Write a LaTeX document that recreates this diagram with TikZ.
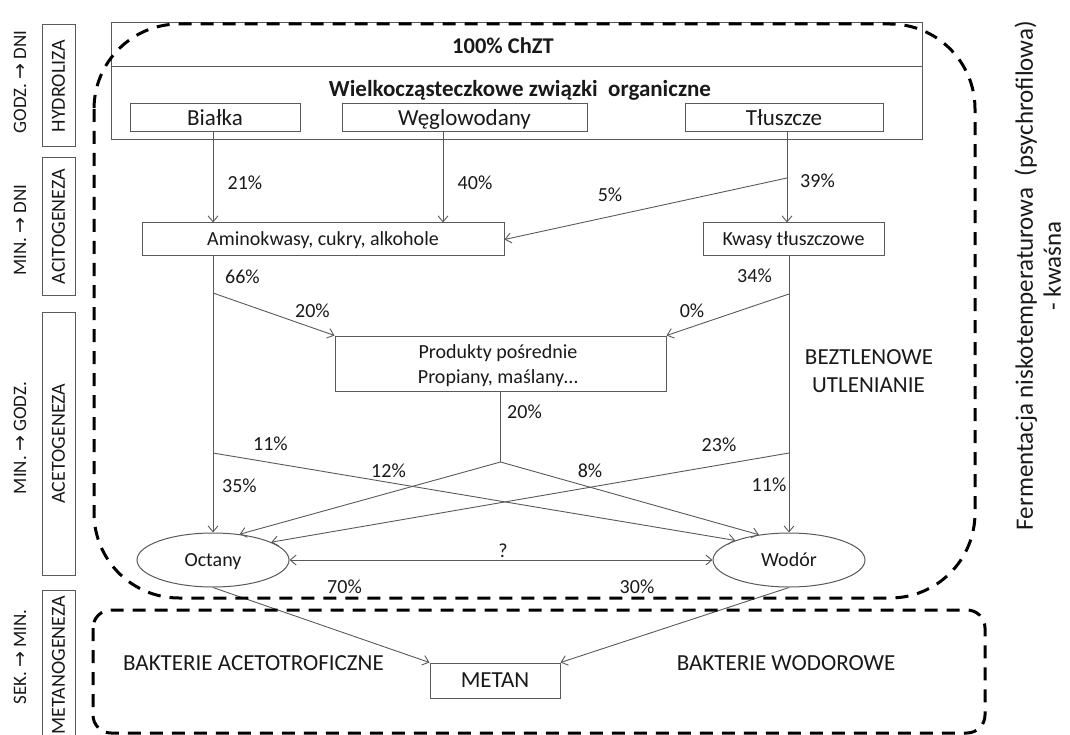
\documentclass[tikz,border=0pt]{standalone}
\usepackage{fontspec}
\setmainfont{Carlito}
\newfontfamily\arrowfont{DejaVu Sans}
\usetikzlibrary{arrows.meta,shapes.geometric}
\newcommand{\myrarr}{{\arrowfont →}}
\begin{document}
\begin{tikzpicture}[x=1pt,y=-1pt,
  conn/.style={draw=black!65, line width=0.9pt},
  arr/.style={conn, -{Straight Barb[length=6pt,width=10pt]}},
  arrtwo/.style={conn, {Straight Barb[length=6pt,width=10pt]}-{Straight Barb[length=6pt,width=10pt]}},
  box/.style={draw=black!65, line width=1pt, rectangle, inner sep=0pt},
  fa/.style={font=\fontsize{20}{24}\selectfont, text height=12.6pt, text depth=0pt, inner sep=0pt, text=black!90},
  fl/.style={font=\fontsize{19}{23}\selectfont, text height=12pt, text depth=0pt, inner sep=0pt, text=black!90},
  fb/.style={font=\fontsize{23}{27}\selectfont, text height=14.5pt, text depth=0pt, inner sep=0pt, text=black!90},
  fbold/.style={font=\fontsize{23}{27}\selectfont\bfseries, text height=14.5pt, text depth=0pt, inner sep=0pt, text=black!90},
  fbolds/.style={font=\fontsize{22.5}{27}\selectfont\bfseries, text height=14.2pt, text depth=0pt, inner sep=0pt, text=black!90},
  fbig/.style={font=\fontsize{25}{30}\selectfont, text height=15.8pt, text depth=0pt, inner sep=0pt, text=black!90},
  dashbox/.style={draw=black, line width=3pt, dash pattern=on 13pt off 9pt},
]
\useasboundingbox (0,0) rectangle (1070,735);

% left stage labels
\node[box, rotate=90, minimum width=122, minimum height=33, fa] (hyd) at (58.5,86) {HYDROLIZA};
\node[box, rotate=90, minimum width=137, minimum height=33, fa] (acit) at (58.5,226.5) {ACITOGENEZA};
\node[box, rotate=90, minimum width=263, minimum height=33, fa] (acet) at (58.5,443.5) {ACETOGENEZA};
\node[box, rotate=90, minimum width=150, minimum height=33, fa] (metg) at (58.5,665) {METANOGENEZA};
\node[fl, rotate=90] (t1) at (20,82) {GODZ. \myrarr{} DNI};
\node[fl, rotate=90] (t2) at (20,230) {MIN. \myrarr{} DNI};
\node[fl, rotate=90] (t3) at (20,438) {MIN. \myrarr{} GODZ.};
\node[fl, rotate=90] (t4) at (20,657) {SEK. \myrarr{} MIN.};

% top box
\node[box, minimum width=811, minimum height=44] (chzt) at (516.5,45) {};
\node[box, minimum width=811, minimum height=73] (wz) at (516.5,103.5) {};
\node[fbolds] (chztt) at (503,46) {100\% ChZT};
\node[fbold] (wzt) at (520,89.5) {Wielkocząsteczkowe związki\ \ organiczne};
\node[box, fb, minimum width=170, minimum height=28] (bialka) at (215,118) {Białka};
\node[box, fb, minimum width=245, minimum height=28] (wegl) at (464.5,118) {Węglowodany};
\node[box, fb, minimum width=198, minimum height=28] (tl) at (784,118) {Tłuszcze};

% second level
\node[box, fa, minimum width=362, minimum height=33] (am) at (323,239.5) {Aminokwasy, cukry, alkohole};
\node[box, fa, minimum width=181, minimum height=33] (kw) at (793.5,239.5) {Kwasy tłuszczowe};

% intermediate
\node[box, minimum width=331, minimum height=55] (prod) at (500.5,363.5) {};
\node[fa] (p1) at (498,352.5) {Produkty pośrednie};
\node[fa] (p2) at (498,377.5) {Propiany, maślany…};

\node[fb] (bez1) at (869,357) {BEZTLENOWE};
\node[fb] (bez2) at (868.5,385.5) {UTLENIANIE};

% ellipses
\node[ellipse, draw=black!65, line width=1pt, minimum width=152, minimum height=54, fa] (oct) at (213,560) {Octany};
\node[ellipse, draw=black!65, line width=1pt, minimum width=152, minimum height=54, fa] (wod) at (789,560) {Wodór};

% methane
\node[box, fb, minimum width=130, minimum height=35] (metan) at (495,680.5) {METAN};
\node[fb] (bak1) at (253.5,663.5) {BAKTERIE ACETOTROFICZNE};
\node[fb] (bak2) at (786,663.5) {BAKTERIE WODOROWE};

% right text
\node[fbig, rotate=90] (ferm1) at (1025,275.5) {Fermentacja niskotemperaturowa\ \ (psychrofilowa)};
\node[fbig, rotate=90] (ferm2) at (1053,266) {- kwaśna};

% helper coordinates
\coordinate (wx) at (443,0);
\coordinate (tlx) at (787,0);
\coordinate (t5) at (787,178);
\coordinate (a66) at (213,293);
\coordinate (k34) at (789,294);
\coordinate (j) at (500.5,462);
\coordinate (a11) at (213,453);
\coordinate (k23) at (789,453);

% connectors
\draw[arr] (bialka.south -| oct.north) -- (am.north -| oct.north);
\draw[arr] (wegl.south -| wx) -- (am.north -| wx);
\draw[arr] (tl.south -| tlx) -- (kw.north -| tlx);
\draw[arr] (t5) -- (am.east);
\draw[arr] (am.south -| oct.north) -- (oct.north);
\draw[arr] (kw.south -| wod.north) -- (wod.north);
\draw[arr] (a66) -- (prod.north west);
\draw[arr] (k34) -- (prod.north east);
\draw[conn] (prod.south) -- (j);
\draw[arr] (j) -- (oct.44);
\draw[arr] (j) -- (wod.140);
\draw[arr] (a11) -- (wod.160);
\draw[arr] (k23) -- (oct.17);
\draw[arrtwo] (oct.east) -- (wod.west);
\draw[arr] (oct.south) -- (metan.north west);
\draw[arr] (wod.south) -- (metan.north east);

% percentages
\node[fa] (p21) at (245,183) {21\%};
\node[fa] (p40) at (475,183) {40\%};
\node[fa] (p39) at (817.5,181) {39\%};
\node[fa] (p5) at (610,195) {5\%};
\node[fa] (p66) at (242.5,277.5) {66\%};
\node[fa] (p20a) at (312.5,311) {20\%};
\node[fa] (p34) at (754.5,276) {34\%};
\node[fa] (p0) at (692,311) {0\%};
\node[fa] (p20b) at (524.5,412.5) {20\%};
\node[fa] (p11a) at (270.5,444) {11\%};
\node[fa] (p12) at (388.5,471) {12\%};
\node[fa] (p35) at (239.5,486) {35\%};
\node[fa] (p8) at (590,471) {8\%};
\node[fa] (p23) at (719,445) {23\%};
\node[fa] (p11b) at (769,485) {11\%};
\node[fa] (pq) at (503,551) {?};
\node[fa] (p70) at (344.5,587.5) {70\%};
\node[fa] (p30) at (637,587.5) {30\%};

% dashed regions
\draw[dashbox, rounded corners=85pt] (94,24) rectangle (975,598);
\draw[dashbox, rounded corners=18pt] (93,610) rectangle (985,733);
\end{tikzpicture}
\end{document}
